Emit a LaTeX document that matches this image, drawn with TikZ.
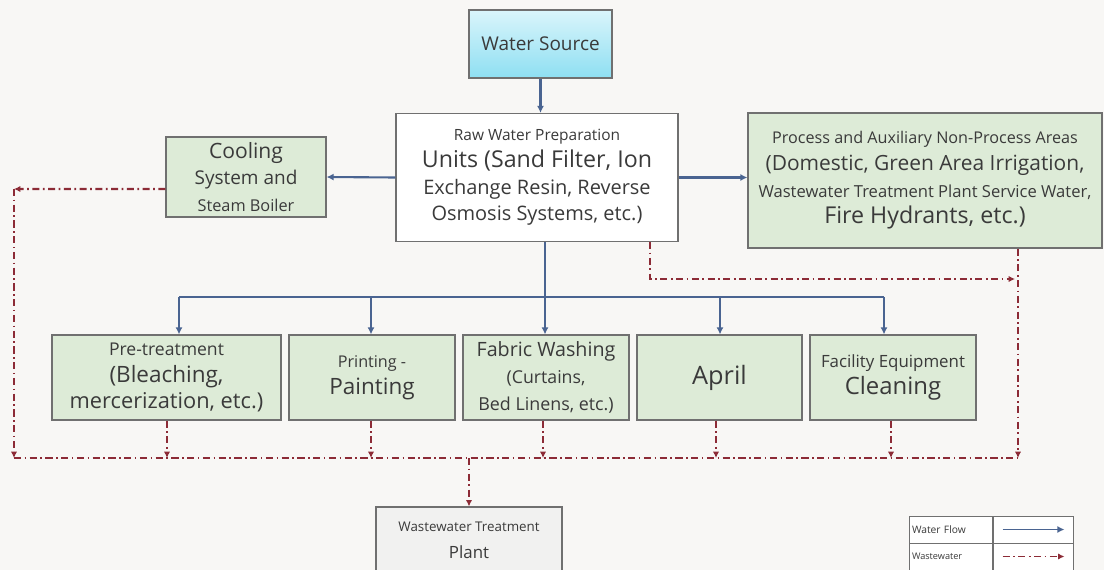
\documentclass[tikz,border=0pt]{standalone}
\usepackage{fontspec}
\setmainfont{Open Sans}
\usepackage{tikz}
\usetikzlibrary{arrows.meta}
\definecolor{pagebg}{HTML}{F8F7F5}
\definecolor{boxgreen}{HTML}{DDEBD7}
\definecolor{boxedge}{HTML}{707070}
\definecolor{plantgray}{HTML}{F1F1F0}
\definecolor{srctop}{HTML}{DAF5FB}
\definecolor{srcbot}{HTML}{8EDFF2}
\definecolor{flowblue}{HTML}{4A6491}
\definecolor{wastered}{HTML}{8C2B36}
\definecolor{inktext}{HTML}{3A3A3A}
\newcommand{\fsz}[1]{\fontsize{#1}{19}\selectfont}

\begin{document}
\begin{tikzpicture}[x=0.025cm,y=-0.025cm,
	stage/.style={draw=boxedge,line width=0.8pt,fill=boxgreen,text=inktext,align=center,inner sep=0pt,font=\fsz{10}},
	legcell/.style={draw=boxedge,line width=0.6pt,fill=white,text=inktext,align=left,inner xsep=2pt,inner ysep=0pt,minimum height=0.675cm},
	flow/.style={draw=flowblue,line width=1.5pt,-{Latex[length=5pt,width=5pt]}},
	flowline/.style={draw=flowblue,line width=1.5pt},
	waste/.style={draw=wastered,line width=1.5pt,dash pattern=on 5pt off 2.5pt on 1.2pt off 2.5pt,-{Latex[length=4.5pt,width=4.5pt]}},
	wasteline/.style={draw=wastered,line width=1.5pt,dash pattern=on 5pt off 2.5pt on 1.2pt off 2.5pt}]
\useasboundingbox (0,0) rectangle (1104,570);
\fill[pagebg] (0,0) rectangle (1104,570);

\node[stage,top color=srctop,bottom color=srcbot,minimum width=3.575cm,minimum height=1.7cm] (src) at (540.5,44) {\fsz{13.5}Water Source};
\node[stage,fill=white,minimum width=7.05cm,minimum height=3.2cm] (raw) at (537,177.5)
	{\fsz{11}Raw Water Preparation\\\fsz{16.5}Units (Sand Filter, Ion\\\fsz{14.2}Exchange Resin, Reverse\\\fsz{14.2}Osmosis Systems, etc.)};
\node[stage,minimum width=4cm,minimum height=2cm] (cool) at (246,177)
	{\fsz{15}Cooling\\\fsz{13.5}System and\\\fsz{11.6}Steam Boiler};
\node[stage,minimum width=8.85cm,minimum height=3.375cm] (proc) at (925,180.5)
	{\fsz{11.5}Process and Auxiliary Non-Process Areas\\\fsz{14.9}(Domestic, Green Area Irrigation,\\\fsz{11.8}Wastewater Treatment Plant Service Water,\\\fsz{16.5}Fire Hydrants, etc.)};

\node[stage,minimum width=5.725cm,minimum height=2.125cm] (pre) at (166.5,377.5)
	{\fsz{12.5}Pre-treatment\\\fsz{16}(Bleaching,\\\fsz{15.5}mercerization, etc.)};
\node[stage,minimum width=4.15cm,minimum height=2.125cm] (print) at (372,377.5)
	{\fsz{11.5}Printing -\\\fsz{16}Painting};
\node[stage,minimum width=4.15cm,minimum height=2.125cm] (fabric) at (546,377.5)
	{\fsz{14}Fabric Washing\\\fsz{12.6}(Curtains,\\\fsz{12.7}Bed Linens, etc.)};
\node[stage,minimum width=4.125cm,minimum height=2.125cm] (april) at (719.5,377.5) {\fsz{18}April};
\node[stage,minimum width=4.15cm,minimum height=2.125cm] (facil) at (893,377.5)
	{\fsz{12}Facility Equipment\\\fsz{17}Cleaning};

\node[stage,fill=plantgray,minimum width=4.65cm,minimum height=1.65cm] (plant) at (469,540)
	{\fsz{9.5}Wastewater Treatment\\\fsz{12}Plant};

\node[legcell,text width=1.95cm,font=\fsz{7.3}] (keyA) at (951,529.5) {Water Flow};
\node[legcell,minimum width=2cm] (keyB) at (1033,529.5) {};
\node[legcell,text width=1.95cm,font=\fsz{6.5}] (keyC) at (951,556.5) {Wastewater};
\node[legcell,minimum width=2cm] (keyD) at (1033,556.5) {};

\coordinate (bA) at (179,297);
\coordinate (bB) at (371,297);
\coordinate (bC) at (545,297);
\coordinate (bD) at (720,297);
\coordinate (bE) at (884,297);

\coordinate (wL) at (14,189);
\coordinate (wBL) at (14,458);
\coordinate (wBR) at (1018,458);
\coordinate (wMid) at (650,279);
\coordinate (wOut) at (469,458);
\coordinate (dA) at (167,458);
\coordinate (dB) at (371,458);
\coordinate (dC) at (543,458);
\coordinate (dD) at (716,458);
\coordinate (dE) at (891,458);

\draw[flow] (src.south) -- (src.south |- raw.north);
\draw[flow] (raw.west) -- (cool.east);
\draw[flow] (raw.east) -- (raw.east -| proc.west);
\draw[flow] (bC |- raw.south) -- (bC |- fabric.north);
\draw[flowline] (bA) -- (bE);
\foreach \n/\t in {pre/bA,print/bB,april/bD,facil/bE}
	\draw[flow] (\t) -- (\t |- \n.north);

\draw[waste] ([yshift=-0.3cm]cool.west) -- (wL);
\draw[waste] (wL) -- (wBL);
\draw[wasteline] (wBL) -- (wBR);
\draw[waste] (wBR |- proc.south) -- (wBR);
\draw[waste] (wMid |- raw.south) -- (wMid) -- ([xshift=-0.075cm]wMid -| wBR);
\foreach \n/\t in {pre/dA,print/dB,fabric/dC,april/dD,facil/dE}
	\draw[waste] (\t |- \n.south) -- (\t);
\draw[waste] (wOut) -- (plant.north);

\draw[flow,line width=1.1pt] ([xshift=0.25cm]keyB.west) -- ([xshift=-0.225cm]keyB.east);
\draw[waste,line width=1.1pt] ([xshift=0.25cm]keyD.west) -- ([xshift=-0.225cm]keyD.east);
\end{tikzpicture}
\end{document}
